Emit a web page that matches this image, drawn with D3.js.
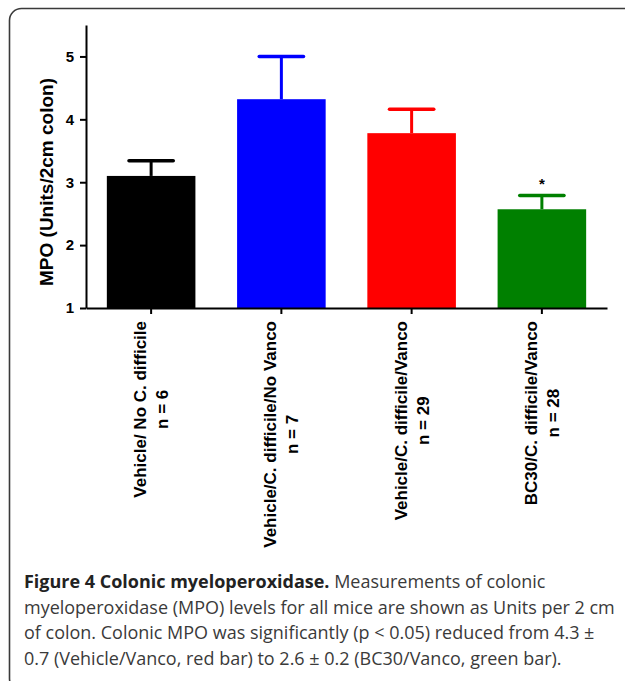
<!DOCTYPE html>
<html>
<head>
<meta charset="utf-8">
<script src="https://cdn.jsdelivr.net/npm/d3@7"></script>
<style>
  body { margin: 0; background: #fff; }
  svg { display: block; }
</style>
</head>
<body>
<svg id="chart" width="625" height="681"></svg>
<script>
// data
const groups = ["Vehicle/ No C. difficile", "Vehicle/C. difficile/No Vanco", "Vehicle/C. difficile/Vanco", "BC30/C. difficile/Vanco"];
const nLabels = ["n = 6", "n = 7", "n = 29", "n = 28"];
const means = [3.10, 4.32, 3.78, 2.57];
const sems = [0.24, 0.68, 0.38, 0.22];
const barColors = ["#000000", "#0000ff", "#ff0000", "#008000"];
const signif = ["", "", "", "*"];
const yTicks = [1, 2, 3, 4, 5];
const yTitle = "MPO (Units/2cm colon)";
const captionBold = "Figure 4 Colonic myeloperoxidase.";
const captionLines = [
  " Measurements of colonic",
  "myeloperoxidase (MPO) levels for all mice are shown as Units per 2 cm",
  "of colon. Colonic MPO was significantly (p < 0.05) reduced from 4.3 \u00b1",
  "0.7 (Vehicle/Vanco, red bar) to 2.6 \u00b1 0.2 (BC30/Vanco, green bar)."
];

const svg = d3.select("#chart");
const chartFont = "'Liberation Sans', Arial, sans-serif";

// frame
svg.append("rect")
  .attr("x", 9.5).attr("y", 8.5)
  .attr("width", 640).attr("height", 682)
  .attr("rx", 12).attr("ry", 12)
  .attr("fill", "none")
  .attr("stroke", "#3a3a3a")
  .attr("stroke-width", 1.6);

const x = d3.scaleBand()
  .domain(groups)
  .range([86, 607])
  .paddingInner(0.32)
  .paddingOuter(0.16);

const y = d3.scaleLinear()
  .domain([1, 5.5])
  .range([308, 25]);

// bars
svg.selectAll(".bar")
  .data(groups)
  .join("rect")
  .attr("class", "bar")
  .attr("x", d => x(d))
  .attr("y", (d, i) => y(means[i]))
  .attr("width", x.bandwidth())
  .attr("height", (d, i) => y(1) - y(means[i]))
  .attr("fill", (d, i) => barColors[i]);

// error bars (upper only)
const err = svg.append("g");
groups.forEach((g, i) => {
  const cx = x(g) + x.bandwidth() / 2;
  const capW = x.bandwidth() / 2;
  err.append("line")
    .attr("x1", cx).attr("x2", cx)
    .attr("y1", y(means[i])).attr("y2", y(means[i] + sems[i]))
    .attr("stroke", barColors[i]).attr("stroke-width", 3);
  err.append("line")
    .attr("x1", cx - capW / 2).attr("x2", cx + capW / 2)
    .attr("y1", y(means[i] + sems[i])).attr("y2", y(means[i] + sems[i]))
    .attr("stroke", barColors[i]).attr("stroke-width", 3.5)
    .attr("stroke-linecap", "round");
  if (signif[i]) {
    svg.append("text")
      .attr("x", cx).attr("y", y(means[i] + sems[i]) - 6)
      .attr("text-anchor", "middle")
      .style("font-family", chartFont)
      .style("font-weight", "bold")
      .style("font-size", "15px")
      .text(signif[i]);
  }
});

// axes
const yAxis = svg.append("g")
  .attr("transform", "translate(86,0)")
  .call(d3.axisLeft(y).tickValues(yTicks).tickFormat(d3.format("d")).tickSize(6).tickSizeOuter(0).tickPadding(6));
yAxis.selectAll("text")
  .style("font-family", chartFont).style("font-weight", "bold").style("font-size", "15px").attr("fill", "#000");
yAxis.selectAll("line, path").attr("stroke", "#000").attr("stroke-width", 2);

const xAxis = svg.append("g")
  .attr("transform", "translate(0,308)")
  .call(d3.axisBottom(x).tickSize(6).tickSizeOuter(0).tickFormat(""));
xAxis.selectAll("line, path").attr("stroke", "#000").attr("stroke-width", 2);

// category labels, rotated, two centred lines
groups.forEach((g, i) => {
  const cx = x(g) + x.bandwidth() / 2;
  const lab = svg.append("g").attr("transform", `translate(${cx},321) rotate(-90)`);
  const t1 = lab.append("text").attr("y", -5).text(g);
  const t2 = lab.append("text").attr("y", 17).text(nLabels[i]);
  lab.selectAll("text")
    .attr("text-anchor", "middle")
    .style("font-family", chartFont).style("font-weight", "bold").style("font-size", "17px");
  const L = Math.max(t1.node().getComputedTextLength(), t2.node().getComputedTextLength());
  lab.selectAll("text").attr("x", -L / 2);
});

// y title
svg.append("text")
  .attr("transform", "translate(53,182) rotate(-90)")
  .attr("text-anchor", "middle")
  .style("font-family", chartFont).style("font-weight", "bold").style("font-size", "19px")
  .text(yTitle);

// caption
const cap = svg.append("g").style("font-family", "'Open Sans', sans-serif").attr("fill", "#3a3a3a");
const probe = cap.append("text").style("font-size", "16px").text(captionLines[1]);
const fs = 16 * 591 / probe.node().getComputedTextLength();
probe.remove();
const baselines = [588, 613.5, 639, 664.5];
captionLines.forEach((line, i) => {
  const t = cap.append("text").attr("x", 24).attr("y", baselines[i]).style("font-size", fs + "px");
  if (i === 0) {
    t.append("tspan").style("font-weight", "bold").attr("fill", "#222").text(captionBold);
  }
  t.append("tspan").text(line);
});
</script>
</body>
</html>
